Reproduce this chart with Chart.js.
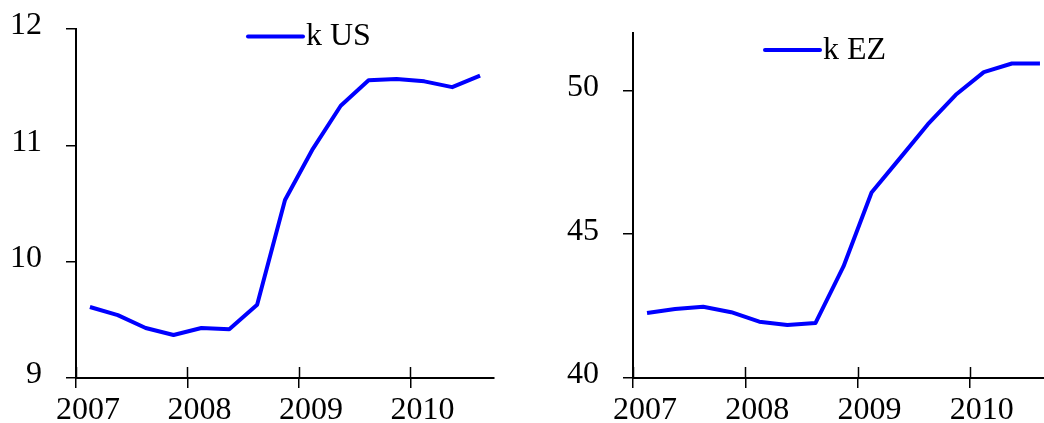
<!DOCTYPE html>
<html>
<head>
<meta charset="utf-8">
<script src="https://cdn.jsdelivr.net/npm/chart.js@4.4.1/dist/chart.umd.min.js"></script>
<style>
  html, body { margin: 0; padding: 0; background: #fff; overflow: hidden; }
  #wrap { position: relative; width: 1044px; height: 423px; overflow: hidden; }
  .panel { position: absolute; top: 0; height: 423px; }
  #p1 { left: 0; width: 522px; }
  #p2 { left: 522px; width: 535px; }
</style>
</head>
<body>
<div id="wrap">
  <div class="panel" id="p1"><canvas id="chartUS"></canvas></div>
  <div class="panel" id="p2"><canvas id="chartEZ"></canvas></div>
</div>
<script>
// quarterly observations, 2007Q1 - 2010Q3
const quarters = ['2007Q1','2007Q2','2007Q3','2007Q4','2008Q1','2008Q2','2008Q3','2008Q4',
                  '2009Q1','2009Q2','2009Q3','2009Q4','2010Q1','2010Q2','2010Q3'];
const kUS = [9.61, 9.54, 9.43, 9.37, 9.43, 9.42, 9.63, 10.53, 10.97, 11.34, 11.56, 11.57, 11.55, 11.50, 11.60];
const kEZ = [42.26, 42.40, 42.48, 42.29, 41.96, 41.84, 41.91, 43.88, 46.45, 47.63, 48.82, 49.85, 50.64, 50.94, 50.94];

const yearTicks = [2007, 2008, 2009, 2010];
const usTicks = [9, 10, 11, 12];
const ezTicks = [40, 45, 50];

// quarter label -> position on the year axis (middle of the quarter)
function qToYear(q) { return +q.slice(0, 4) + (+q.slice(5) - 0.5) / 4; }

const serif = "'Liberation Serif', 'Times New Roman', serif";
Chart.defaults.font.family = serif;
Chart.defaults.font.size = 32;
Chart.defaults.color = '#000';

// x ticks cross the axis: chart.js draws the outer half, this adds the inner half
const innerTicks = {
  id: 'innerTicks',
  afterDraw(chart) {
    const { ctx, chartArea } = chart;
    const x = chart.scales.x;
    ctx.save();
    ctx.strokeStyle = '#000';
    ctx.lineWidth = 1.5;
    x.ticks.forEach(t => {
      const px = Math.round(x.getPixelForValue(t.value)) + 0.5;
      ctx.beginPath();
      ctx.moveTo(px, chartArea.bottom);
      ctx.lineTo(px, chartArea.bottom - 11);
      ctx.stroke();
    });
    ctx.restore();
  }
};

// small line legend with a tight gap between sample and text
const lineKey = {
  id: 'lineKey',
  afterDraw(chart, args, opts) {
    const ds = chart.data.datasets[0];
    const ctx = chart.ctx;
    ctx.save();
    ctx.strokeStyle = ds.borderColor;
    ctx.lineWidth = ds.borderWidth;
    ctx.lineCap = 'round';
    ctx.beginPath();
    ctx.moveTo(opts.x, opts.y);
    ctx.lineTo(opts.x + 55, opts.y);
    ctx.stroke();
    ctx.fillStyle = '#000';
    ctx.font = '32px ' + serif;
    ctx.textBaseline = 'alphabetic';
    ctx.fillText(ds.label, opts.x + 58, opts.y + 8.5);
    ctx.restore();
  }
};

function noPad(s) {
  s.paddingTop = 0; s.paddingBottom = 0; s.paddingLeft = 0; s.paddingRight = 0;
}

function makeChart(id, label, values, yMin, yMax, yTickList, yWidth, padTop, padRight, key) {
  return new Chart(id, {
    type: 'line',
    data: {
      datasets: [{
        label: label,
        data: quarters.map((q, i) => ({ x: qToYear(q), y: values[i] })),
        borderColor: '#0000ff',
        borderWidth: 4,
        borderJoinStyle: 'round',
        pointRadius: 0,
        tension: 0,
        fill: false
      }]
    },
    options: {
      responsive: true,
      maintainAspectRatio: false,
      animation: false,
      devicePixelRatio: 1,
      layout: { padding: { left: 0, top: padTop, right: padRight, bottom: 0 } },
      plugins: {
        legend: { display: false },
        tooltip: { enabled: false },
        lineKey: key
      },
      scales: {
        x: {
          type: 'linear',
          min: 2007,
          max: 2010.75,
          afterBuildTicks: s => { s.ticks = yearTicks.map(v => ({ value: v })); },
          afterFit: s => { s.height = 45; noPad(s); },
          ticks: { callback: v => String(v), labelOffset: 12, padding: 3, maxRotation: 0, autoSkip: false },
          grid: { drawOnChartArea: false, tickLength: 10, color: '#000', lineWidth: 1.5 },
          border: { color: '#000', width: 2 }
        },
        y: {
          min: yMin,
          max: yMax,
          afterBuildTicks: s => { s.ticks = yTickList.map(v => ({ value: v })); },
          afterFit: s => { s.width = yWidth; noPad(s); },
          ticks: { padding: 24, labelOffset: -3 },
          grid: { drawOnChartArea: false, tickLength: 10, color: '#000', lineWidth: 1.5 },
          border: { color: '#000', width: 2 }
        }
      }
    },
    plugins: [innerTicks, lineKey]
  });
}

makeChart('chartUS', 'k US', kUS, 9, 12, usTicks, 76, 29, 28, { x: 248, y: 36.5 });
makeChart('chartEZ', 'k EZ', kEZ, 40, 52, ezTicks, 111, 33, 3, { x: 243, y: 50 });
</script>
</body>
</html>
